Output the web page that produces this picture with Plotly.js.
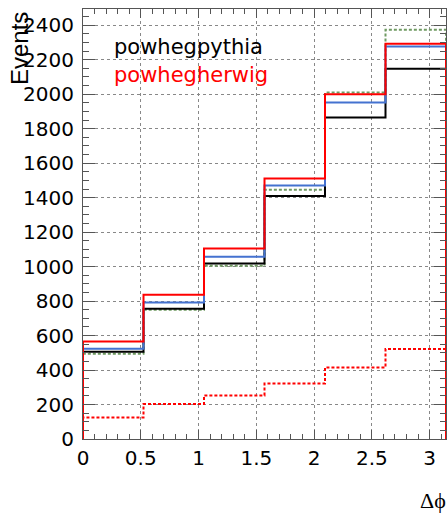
<!DOCTYPE html>
<html>
<head>
<meta charset="utf-8">
<script src="https://cdn.plot.ly/plotly-3.0.1.min.js"></script>
<style>html,body{margin:0;padding:0;background:#fff;}#plot{width:447px;height:518px;}</style>
</head>
<body>
<div id="plot"></div>
<script>
// Bin edges of Δϕ (6 bins from 0 to π)
const nBins = 6;
const binEdges = Array.from({length: nBins + 1}, (_, i) => i * Math.PI / nBins);

// Bin contents
const powhegpythia = [506, 755, 1018, 1409, 1864, 2147];   // black
const powhegherwig = [566, 837, 1105, 1511, 2000, 2292];   // red solid
const blueSeries   = [524, 792, 1057, 1470, 1951, 2276];   // blue
const greenDotted  = [494, 750, 1005, 1445, 2009, 2373];   // green dotted
const redDotted    = [125, 203, 253, 322, 415, 522];       // red dotted

const xTickVals = [0, 0.5, 1, 1.5, 2, 2.5, 3];
const xTickText = ['0', '0.5', '1', '1.5', '2', '2.5', '3'];
const yTickVals = [0, 200, 400, 600, 800, 1000, 1200, 1400, 1600, 1800, 2000, 2200, 2400];
const yTickText = yTickVals.map(String);

function stepTrace(vals, color, dash, name) {
  const x = [binEdges[0]];
  const y = [0];
  for (let i = 0; i < vals.length; i++) { x.push(binEdges[i]); y.push(vals[i]); }
  x.push(binEdges[binEdges.length - 1]); y.push(0);
  return {
    x: x, y: y, type: 'scatter', mode: 'lines', name: name,
    line: {shape: 'hv', color: color, width: 2, dash: dash},
    hoverinfo: 'skip', showlegend: false
  };
}

const traces = [
  stepTrace(greenDotted, '#6f9a62', '3px,2px', 'green'),
  stepTrace(powhegpythia, '#000000', 'solid', 'powhegpythia'),
  stepTrace(blueSeries, '#4472d0', 'solid', 'blue'),
  stepTrace(redDotted, '#ff0000', '3px,2px', 'red dotted'),
  stepTrace(powhegherwig, '#ff0000', 'solid', 'powhegherwig')
];

const H = 518, T = 9, B = 79;
const plotH = H - T - B;
function py(pix) { return (H - B - pix) / plotH; }
const L = 83, R = 1, W = 447;
const plotW = W - L - R;
function px(pix) { return (pix - L) / plotW; }

const axisFont = {family: 'DejaVu Sans, sans-serif', size: 20, color: '#000'};

const layout = {
  width: W, height: H,
  margin: {l: L, r: R, t: T, b: B, pad: 0},
  paper_bgcolor: '#fff', plot_bgcolor: '#fff',
  showlegend: false,
  xaxis: {
    range: [0, Math.PI], tickvals: xTickVals, ticktext: xTickText,
    showline: true, linecolor: '#555', linewidth: 1, mirror: 'allticks',
    ticks: 'inside', ticklen: 9, tickcolor: '#555', tickwidth: 1,
    minor: {ticks: 'inside', ticklen: 5, dtick: 0.1, tick0: 0, tickcolor: '#555', showgrid: false},
    showgrid: true, gridcolor: '#888', griddash: 'dot', gridwidth: 1,
    zeroline: false, tickfont: axisFont, ticklabelstandoff: 1
  },
  yaxis: {
    range: [0, 2494], tickvals: yTickVals, ticktext: yTickText,
    showline: true, linecolor: '#555', linewidth: 1, mirror: 'allticks',
    ticks: 'inside', ticklen: 12, tickcolor: '#555', tickwidth: 1,
    minor: {ticks: 'inside', ticklen: 6, dtick: 50, tick0: 0, tickcolor: '#555', showgrid: false},
    showgrid: true, gridcolor: '#888', griddash: 'dot', gridwidth: 1,
    zeroline: false, tickfont: axisFont, ticklabelstandoff: 4
  },
  annotations: [
    {text: 'Events', textangle: -90, xref: 'paper', yref: 'paper',
     x: px(19), y: py(49), xanchor: 'center', yanchor: 'middle', showarrow: false,
     font: {family: 'Liberation Sans, Arial, sans-serif', size: 24, color: '#000'}},
    {text: 'Δϕ', xref: 'paper', yref: 'paper',
     x: px(433), y: py(500), xanchor: 'center', yanchor: 'middle', showarrow: false,
     font: {family: 'Liberation Serif, Times New Roman, serif', size: 22, color: '#000'}},
    {text: 'powhegpythia', xref: 'paper', yref: 'paper',
     x: px(112), y: py(47), xanchor: 'left', yanchor: 'middle', showarrow: false,
     font: {family: 'DejaVu Sans, sans-serif', size: 21, color: '#000'}},
    {text: 'powhegherwig', xref: 'paper', yref: 'paper',
     x: px(112), y: py(75), xanchor: 'left', yanchor: 'middle', showarrow: false,
     font: {family: 'DejaVu Sans, sans-serif', size: 21, color: '#ff0000'}}
  ]
};

Plotly.newPlot('plot', traces, layout, {displayModeBar: false, staticPlot: true});
</script>
</body>
</html>
